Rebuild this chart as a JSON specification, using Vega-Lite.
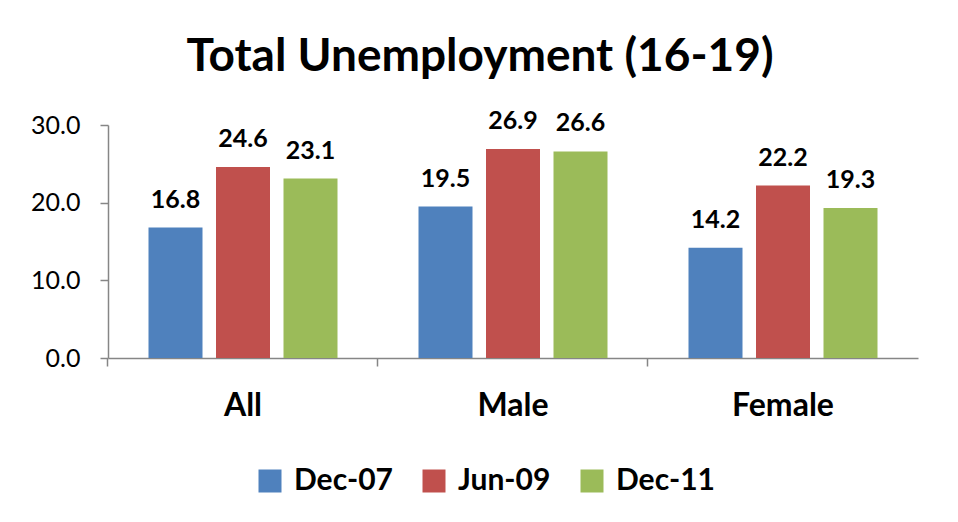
{
  "$schema": "https://vega.github.io/schema/vega-lite/v6.json",
  "width": 810,
  "height": 233,
  "autosize": "none",
  "padding": {"left": 108, "top": 125, "right": 40, "bottom": 164},
  "background": "white",
  "config": {
    "font": "Lato",
    "view": {"stroke": null}
  },
  "title": {
    "text": "Total Unemployment (16-19)",
    "fontSize": 46,
    "fontWeight": "bold",
    "font": "Lato",
    "color": "black",
    "anchor": "middle",
    "frame": "group",
    "baseline": "alphabetic",
    "offset": -8,
    "dx": -33
  },
  "data": {
    "values": [
      {"group": "All", "period": "Dec-07", "rate": 16.8},
      {"group": "All", "period": "Jun-09", "rate": 24.6},
      {"group": "All", "period": "Dec-11", "rate": 23.1},
      {"group": "Male", "period": "Dec-07", "rate": 19.5},
      {"group": "Male", "period": "Jun-09", "rate": 26.9},
      {"group": "Male", "period": "Dec-11", "rate": 26.6},
      {"group": "Female", "period": "Dec-07", "rate": 14.2},
      {"group": "Female", "period": "Jun-09", "rate": 22.2},
      {"group": "Female", "period": "Dec-11", "rate": 19.3}
    ]
  },
  "encoding": {
    "x": {
      "field": "group",
      "type": "nominal",
      "sort": ["All", "Male", "Female"],
      "scale": {"paddingInner": 0.3, "paddingOuter": 0.15},
      "axis": {
        "title": null,
        "labelAngle": 0,
        "labelFontSize": 32,
        "labelFontWeight": "bold",
        "labelColor": "black",
        "labelPadding": 24,
        "bandPosition": -0.2143,
        "tickSize": 8,
        "tickColor": "#868686",
        "tickWidth": 1.5,
        "domainColor": "#868686",
        "domainWidth": 1.5
      }
    },
    "xOffset": {
      "field": "period",
      "type": "nominal",
      "sort": ["Dec-07", "Jun-09", "Dec-11"],
      "scale": {"paddingInner": 0.2, "paddingOuter": 0}
    },
    "y": {
      "field": "rate",
      "type": "quantitative",
      "scale": {"domain": [0, 30], "nice": false},
      "axis": {
        "title": null,
        "values": [0, 10, 20, 30],
        "format": ".1f",
        "grid": false,
        "labelFontSize": 25,
        "labelColor": "black",
        "labelPadding": 20,
        "tickSize": 8,
        "tickColor": "#868686",
        "tickWidth": 1.5,
        "domainColor": "#868686",
        "domainWidth": 1.5
      }
    }
  },
  "layer": [
    {
      "mark": {"type": "bar"},
      "encoding": {
        "color": {
          "field": "period",
          "type": "nominal",
          "sort": ["Dec-07", "Jun-09", "Dec-11"],
          "scale": {"domain": ["Dec-07", "Jun-09", "Dec-11"], "range": ["#4F81BD", "#C0504D", "#9BBB59"]},
          "legend": {
            "title": null,
            "orient": "none",
            "direction": "horizontal",
            "legendX": 147,
            "legendY": 341,
            "symbolType": "square",
            "symbolSize": 529,
            "symbolStrokeWidth": 0,
            "symbolOpacity": 1,
            "labelFontSize": 30,
            "labelFontWeight": "bold",
            "labelColor": "black",
            "labelOffset": 9,
            "columnPadding": 26
          }
        }
      }
    },
    {
      "mark": {"type": "text", "baseline": "alphabetic", "dy": -20, "fontSize": 25, "fontWeight": "bold", "color": "black"},
      "encoding": {
        "text": {"field": "rate", "type": "quantitative", "format": ".1f"}
      }
    }
  ]
}
